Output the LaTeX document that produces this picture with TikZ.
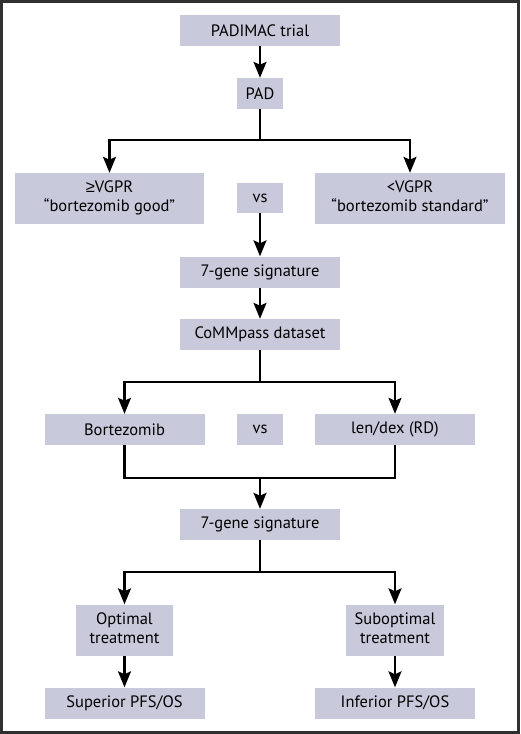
\documentclass[tikz,border=0pt]{standalone}
\usepackage{fontspec}
\setmainfont{PT Sans}
\newfontfamily\symfont{Liberation Sans}
\usetikzlibrary{arrows.meta}
\definecolor{boxfill}{HTML}{C8C9DB}
\definecolor{frame}{HTML}{303030}
\newcommand{\twolines}[2]{\begin{tabular}{@{}c@{}}#1\\#2\end{tabular}}
\tikzset{
  stage/.style={fill=boxfill,inner sep=0pt,font=\fontsize{16.5}{19}\selectfont,minimum height=31pt},
  wide/.style={stage,minimum width=160pt},
  tall/.style={stage,minimum height=51pt,minimum width=#1},
  flow/.style={line width=2.2pt,-{Stealth[length=16pt,width=13pt,inset=3pt]}},
  link/.style={line width=2.2pt}
}
\begin{document}
\begin{tikzpicture}[x=1pt,y=-1pt]
                \useasboundingbox (0,0) rectangle (520,734);
                \draw[frame,line width=2.5pt] (1.5,1.5) rectangle (518.5,732.5);
                %% boxes
                \node[wide] (trial) at (260,30.5) {PADIMAC trial};
                \node[stage,minimum width=46pt] (pad) at (260,93.5) {PAD};
                \node[tall=189pt] (good) at (109.5,198.5) {\twolines{{\symfont ≥}VGPR}{“bortezomib good”}};
                \node[stage,minimum width=46pt,minimum height=30pt] (vsA) at (260,198) {vs};
                \node[tall=190pt] (std) at (410,198.5) {\twolines{<VGPR}{“bortezomib standard”}};
                \node[wide] (sigA) at (260,272) {7-gene signature};
                \node[wide] (cmp) at (260,334.5) {CoMMpass dataset};
                \node[wide] (bort) at (124.5,429.5) {Bortezomib};
                \node[stage,minimum width=46pt] (vsB) at (260,429.5) {vs};
                \node[wide] (rd) at (395,429.5) {len/dex (RD)};
                \node[wide] (sigB) at (260,524.5) {7-gene signature};
                \node[tall=97pt] (opt) at (124.5,630) {\twolines{Optimal}{treatment}};
                \node[tall=98pt] (sub) at (395,630) {\twolines{Suboptimal}{treatment}};
                \node[wide] (sup) at (124.5,703) {Superior PFS/OS};
                \node[wide] (inf) at (395,703) {Inferior PFS/OS};
                %% forks
                \coordinate (forkA) at (260,140);
                \coordinate (forkB) at (260,382);
                \coordinate (joinB) at (260,478);
                \coordinate (forkC) at (260,572);
                %% arrows
                \draw[flow] (trial) -- (pad);
                \draw[link] (pad) -- (forkA);
                \draw[flow] (forkA) -| (good);
                \draw[flow] (forkA) -| (std);
                \draw[flow] (vsA) -- (sigA);
                \draw[flow] (sigA) -- (cmp);
                \draw[link] (cmp) -- (forkB);
                \draw[flow] (forkB) -| (bort);
                \draw[flow] (forkB) -| (rd);
                \draw[link] (bort) |- (joinB) -| (rd);
                \draw[flow] (joinB) -- (sigB);
                \draw[link] (sigB) -- (forkC);
                \draw[flow] (forkC) -| (opt);
                \draw[flow] (forkC) -| (sub);
                \draw[flow] (opt) -- (sup);
                \draw[flow] (sub) -- (inf);
            \end{tikzpicture}
\end{document}
